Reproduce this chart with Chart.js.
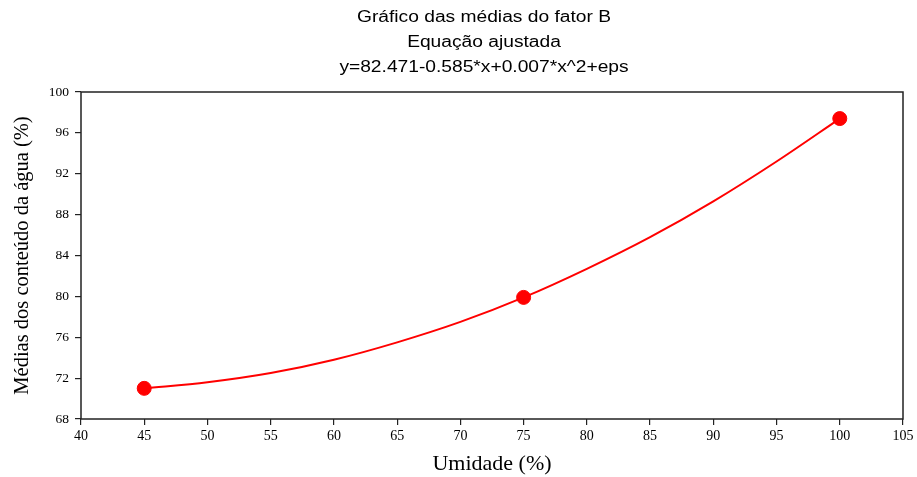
<!DOCTYPE html>
<html lang="pt">
<head>
<meta charset="utf-8">
<title>Gráfico das médias do fator B</title>
<script src="https://cdn.jsdelivr.net/npm/chart.js@4.4.0/dist/chart.umd.min.js"></script>
<style>
  html, body { margin: 0; padding: 0; background: #fff; }
  #wrap { width: 917px; height: 477px; }
</style>
</head>
<body>
<div id="wrap"><canvas id="grafico" width="917" height="477"></canvas></div>
<script>
// médias observadas
var umidade = [45, 75, 100];
var medias = [71.0, 79.9, 97.4];

// curva ajustada
var curvaX = [45, 50, 55, 60, 65, 70, 75, 80, 85, 90, 95, 100];
var curvaY = [71.0, 71.6, 72.5, 73.8, 75.5, 77.5, 79.9, 82.7, 85.8, 89.3, 93.2, 97.4];

// ticks
var ticksX = [40, 45, 50, 55, 60, 65, 70, 75, 80, 85, 90, 95, 100, 105];
var ticksY = [68, 72, 76, 80, 84, 88, 92, 96, 100];

var titulo = ['Gráfico das médias do fator B', 'Equação ajustada', 'y=82.471-0.585*x+0.007*x^2+eps'];

var pontosCurva = curvaX.map(function (x, i) { return { x: x, y: curvaY[i] }; });
var pontosMedias = umidade.map(function (x, i) { return { x: x, y: medias[i] }; });

// moldura + título (o título é um pouco esticado na horizontal como no original)
var moldura = {
    id: 'moldura',
    afterDraw: function (chart) {
        var a = chart.chartArea, c = chart.ctx;
        c.save();
        c.strokeStyle = '#222';
        c.lineWidth = 1.5;
        c.strokeRect(a.left, a.top, a.right - a.left, a.bottom - a.top);
        c.restore();

        c.save();
        c.fillStyle = '#000';
        c.font = "16px 'Liberation Sans', Arial, sans-serif";
        c.textAlign = 'center';
        c.textBaseline = 'middle';
        c.scale(1.2, 1);
        titulo.forEach(function (t, i) {
            c.fillText(t, 484 / 1.2, 18 + i * 25);
        });
        c.restore();
    }
};

var serif = "'Liberation Serif', 'Times New Roman', serif";

new Chart(document.getElementById('grafico'), {
    type: 'scatter',
    data: {
        datasets: [{
            data: pontosCurva,
            showLine: true,
            borderColor: '#ff0000',
            borderWidth: 2,
            pointRadius: 0,
            cubicInterpolationMode: 'monotone',
            order: 2
        }, {
            data: pontosMedias,
            backgroundColor: '#ff0000',
            borderColor: '#ff0000',
            pointRadius: 7,
            pointHoverRadius: 7,
            order: 1
        }]
    },
    options: {
        responsive: false,
        animation: false,
        layout: { padding: { left: 0, right: 14, top: 92, bottom: 0 } },
        plugins: {
            legend: { display: false },
            tooltip: { enabled: false },
            title: { display: false }
        },
        scales: {
            x: {
                type: 'linear',
                min: 40,
                max: 105,
                afterBuildTicks: function (s) { s.ticks = ticksX.map(function (v) { return { value: v }; }); },
                afterFit: function (s) { s.height = 58; },
                grid: { display: true, drawOnChartArea: false, drawTicks: true, tickLength: 6, color: '#222', lineWidth: 1.2 },
                border: { display: false },
                ticks: { color: '#000', font: { family: serif, size: 14 }, padding: 3, maxRotation: 0 },
                title: { display: true, text: 'Umidade (%)', color: '#000', font: { family: serif, size: 22 }, padding: { top: 0, bottom: 0 } }
            },
            y: {
                type: 'linear',
                min: 68,
                max: 100,
                afterBuildTicks: function (s) { s.ticks = ticksY.map(function (v) { return { value: v }; }); },
                afterFit: function (s) { s.width = 81; },
                grid: { display: true, drawOnChartArea: false, drawTicks: true, tickLength: 6, color: '#222', lineWidth: 1.2 },
                border: { display: false },
                ticks: { color: '#000', font: { family: serif, size: 13.5 }, padding: 6 },
                title: { display: true, text: 'Médias dos conteúdo da água (%)', color: '#000', font: { family: serif, size: 20.5 }, padding: { top: 10, bottom: 4 } }
            }
        }
    },
    plugins: [moldura]
});
</script>
</body>
</html>
